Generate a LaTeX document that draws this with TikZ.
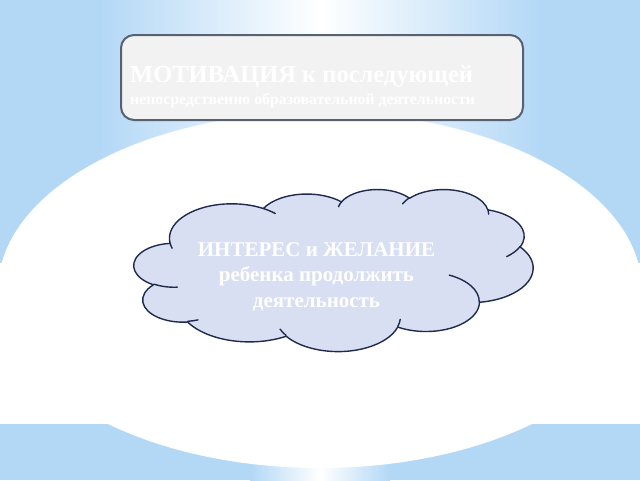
\documentclass[tikz,border=0pt]{standalone}
\usepackage{fontspec}
\setmainfont{Liberation Serif}
\definecolor{bgblue}{HTML}{B3D8F6}
\definecolor{boxfill}{HTML}{F2F2F2}
\definecolor{boxdraw}{HTML}{586172}
\definecolor{cloudfill}{HTML}{D9DFF3}
\definecolor{clouddraw}{HTML}{1F2A4D}
\pgfdeclarehorizontalshading{glow}{100bp}{color(0bp)=(bgblue); color(25bp)=(bgblue); color(50bp)=(white); color(75bp)=(bgblue); color(100bp)=(bgblue)}
% OOXML-style arcTo: wR hR stAng swAng (visual angles, degrees)
\newcommand\ooarc[4]{arc[x radius=#1, y radius=#2,
  start angle={atan2(#1*sin(#3),#2*cos(#3))},
  delta angle={mod(atan2(#1*sin(#3+#4),#2*cos(#3+#4))-atan2(#1*sin(#3),#2*cos(#3))+720,360)}]}
\tikzset{
  boxsty/.style={draw=boxdraw, line width=2pt, fill=boxfill, rounded corners=13pt, inner sep=0pt},
  cloudsty/.style={draw=clouddraw, line width=1.4pt, fill=cloudfill, line join=round},
  cloudline/.style={draw=clouddraw, line width=1.4pt, line cap=round},
  boxtext/.style={text=white, inner sep=0pt},
  cloudtext/.style={text=white, font=\bfseries\fontsize{21}{25.2}\selectfont, align=center, inner sep=0pt}
}
\begin{document}
\begin{tikzpicture}[x=1pt, y=-1pt]
\useasboundingbox (0,0) rectangle (640,480);
% background
\fill[bgblue] (0,0) rectangle (640,480);
\shade[shading=glow] (100,0) rectangle (540,264);
\shade[shading=glow] (250,455) rectangle (390,480);
\fill[white] (0,263) rectangle (640,424);
\fill[white] (320,290) ellipse[x radius=322, y radius=178];
% top box
\node[boxsty, minimum width=402pt, minimum height=85pt, anchor=north west] (box) at (120,34) {};
\node[boxtext, anchor=base west, font=\bfseries\fontsize{24.5}{28}\selectfont] (t1) at (130,82.7) {МОТИВАЦИЯ к последующей};
\node[boxtext, anchor=base west, font=\bfseries\fontsize{15.8}{18}\selectfont] (t2) at (130,104.3) {непосредственно образовательной деятельности};
% cloud
\begin{scope}[xshift=134pt, yshift=-189pt, x=0.92361pt, y=-0.375pt]
\draw[cloudsty] (39,143.7)
  \ooarc{67.53}{91.90}{-190.48748}{123.78053}
  \ooarc{53.33}{72.67}{-144.10238}{89.94523}
  \ooarc{43.65}{59.45}{-145.80792}{99.72302}
  \ooarc{48.57}{65.95}{-130.98607}{117.24173}
  \ooarc{53.33}{72.73}{-78.70888}{109.02692}
  \ooarc{67.75}{92.20}{-46.26725}{130.269}
  \ooarc{57.85}{78.67}{0.62502}{114.03333}
  \ooarc{67.52}{92.15}{22.4516}{115.17255}
  \ooarc{77.20}{105.43}{66.24263}{75.71102}
  \ooarc{43.60}{59.18}{-274.94208}{146.73557}
  \ooarc{43.45}{59.45}{-246.8285}{152.51885} -- cycle;
\draw[cloudline]
  (46.93,261.77) \ooarc{43.45}{59.45}{86.742}{26.4295}
  (69.28,348.99) \ooarc{43.60}{59.18}{73.61047}{11.44747}
  (164.78,390.90) \ooarc{67.52}{92.15}{137.62415}{14.0811}
  (288.27,347.51) \ooarc{67.52}{92.15}{6.45327}{15.99835}
  (341.29,229.54) \ooarc{57.85}{78.67}{-70.29235}{70.91737}
  (417.98,153.54) \ooarc{53.33}{72.73}{30.31803}{27.7515}
  (383.24,54.26) \ooarc{48.57}{65.95}{-13.74433}{14.8589}
  (290.78,39.52) \ooarc{48.57}{65.95}{-149.18145}{18.19537}
  (221.41,47.20) \ooarc{43.65}{59.45}{-163.49427}{17.68635}
  (140.00,51.92) \ooarc{67.53}{91.90}{-66.70695}{12.31935}
  (41.27,157.89) \ooarc{67.53}{91.90}{157.65435}{11.85817};
\end{scope}
\node[cloudtext, anchor=base] (ct) at (316.5,307) {ИНТЕРЕС и ЖЕЛАНИЕ\\ребенка продолжить\\деятельность};
\end{tikzpicture}
\end{document}
